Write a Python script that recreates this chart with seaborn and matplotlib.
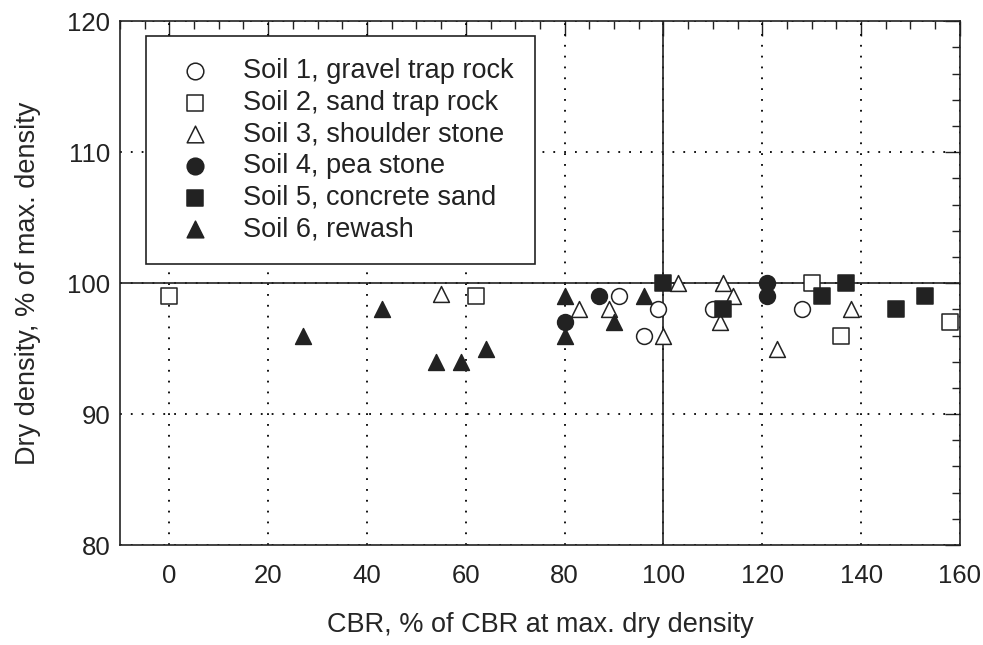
import pandas as pd
import matplotlib
matplotlib.use("Agg")
import matplotlib.pyplot as plt
from matplotlib.ticker import MultipleLocator
import seaborn as sns

# values
soil_names = ["Soil 1, gravel trap rock", "Soil 2, sand trap rock", "Soil 3, shoulder stone",
              "Soil 4, pea stone", "Soil 5, concrete sand", "Soil 6, rewash"]

soil1_cbr = [91, 99, 96, 110, 128]
soil1_dens = [99, 98, 96, 98, 98]
soil2_cbr = [0, 62, 130, 136, 158]
soil2_dens = [99, 99, 100, 96, 97]
soil3_cbr = [55, 83, 89, 100, 103, 112, 114, 111.5, 123, 138]
soil3_dens = [99.2, 98, 98, 96, 100, 100, 99, 97, 95, 98]
soil4_cbr = [80, 87, 121, 121]
soil4_dens = [97, 99, 100, 99]
soil5_cbr = [100, 112, 132, 137, 147, 153]
soil5_dens = [100, 98, 99, 100, 98, 99]
soil6_cbr = [27, 43, 54, 59, 64, 80, 80, 90, 96]
soil6_dens = [96, 98, 94, 94, 95, 99, 96, 97, 99]

x_ticks = [0, 20, 40, 60, 80, 100, 120, 140, 160]
y_ticks = [80, 90, 100, 110, 120]

cbr_lists = [soil1_cbr, soil2_cbr, soil3_cbr, soil4_cbr, soil5_cbr, soil6_cbr]
dens_lists = [soil1_dens, soil2_dens, soil3_dens, soil4_dens, soil5_dens, soil6_dens]
markers = ["o", "s", "^", "o", "s", "^"]
fills = ["white", "white", "white", "#222222", "#222222", "#222222"]

frames = []
for name, c, d in zip(soil_names, cbr_lists, dens_lists):
    frames.append(pd.DataFrame({"CBR": c, "Density": d, "Soil": name}))
df = pd.concat(frames, ignore_index=True)

sns.set_theme(style="white")
plt.rcParams["font.family"] = ["Liberation Sans", "DejaVu Sans"]
plt.rcParams["text.color"] = "#222222"

fig = plt.figure(figsize=(9.83, 6.45), dpi=100)
ax = fig.add_axes([0.122, 0.155, 0.8545, 0.812])

# grid and reference lines
for xv in x_ticks:
    ax.axvline(xv, color="black", lw=1.3, ls=(0, (1, 5)), zorder=1)
for yv in y_ticks:
    ax.axhline(yv, color="black", lw=1.3, ls=(0, (1, 5)), zorder=1)
ax.axvline(100, color="#222222", lw=1.2, zorder=1.5)
ax.axhline(100, color="#222222", lw=1.2, zorder=1.5)

for name, m, f in zip(soil_names, markers, fills):
    sub = df[df["Soil"] == name]
    sns.scatterplot(data=sub, x="CBR", y="Density", marker=m, color=f,
                    edgecolor="#222222", linewidth=1.1, s=130, label=name,
                    ax=ax, zorder=3)

ax.set_xlim(-10, 160)
ax.set_ylim(80, 120)
ax.set_xticks(x_ticks)
ax.set_yticks(y_ticks)
ax.xaxis.set_minor_locator(MultipleLocator(5))
ax.yaxis.set_minor_locator(MultipleLocator(2))
ax.tick_params(which="both", direction="in", top=True, right=True, color="#222222", width=1.0)
ax.tick_params(which="major", length=11, labelsize=18.5, labelcolor="#222222")
ax.tick_params(axis="x", which="major", pad=14)
ax.tick_params(axis="y", which="major", pad=7)
ax.tick_params(which="minor", length=6)
for sp in ax.spines.values():
    sp.set_color("#222222")
    sp.set_linewidth(1.2)

ax.set_xlabel("CBR, % of CBR at max. dry density", fontsize=19.5, labelpad=17)
ax.set_ylabel("Dry density, % of max. density", fontsize=19.5, labelpad=19)

leg = ax.legend(loc="upper left", bbox_to_anchor=(0.031, 0.971), borderaxespad=0,
                frameon=True, fancybox=False, edgecolor="#222222", framealpha=1,
                fontsize=19.5, borderpad=0.8, handlelength=2.0, handletextpad=0.78,
                labelspacing=0.21, markerscale=1.05)
leg.get_frame().set_linewidth(1.2)

plt.savefig("out.png", dpi=100)
